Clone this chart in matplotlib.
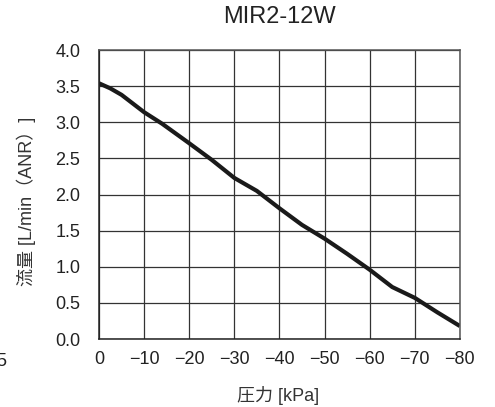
import matplotlib
matplotlib.use("Agg")
import matplotlib.pyplot as plt

# 圧力 [kPa] と 流量 [L/min(ANR)]
pressure = [0, -2.5, -5, -7.5, -10, -14, -20, -25, -30, -35, -40, -45, -50,
            -55, -60, -65, -70, -75, -80]
flow = [3.54, 3.47, 3.38, 3.26, 3.14, 2.98, 2.71, 2.48, 2.23, 2.05, 1.81,
        1.58, 1.39, 1.18, 0.96, 0.72, 0.57, 0.37, 0.18]

x_ticks = [0, -10, -20, -30, -40, -50, -60, -70, -80]
y_ticks = [0.0, 0.5, 1.0, 1.5, 2.0, 2.5, 3.0, 3.5, 4.0]

title = "MIR2-12W"
x_label = "圧力 [kPa]"
y_label = "流量 [L/min（ANR）]"

plt.rcParams["font.family"] = ["Liberation Sans", "Noto Sans CJK JP", "DejaVu Sans"]
plt.rcParams["axes.unicode_minus"] = True

fig = plt.figure(figsize=(4.95, 4.07), dpi=100)
ax = fig.add_axes([0.2, 0.167, 0.729, 0.71])

ax.plot(pressure, flow, color="#1a1a1a", lw=3.0, solid_capstyle="butt")

ax.set_xlim(0, -80)
ax.set_ylim(0, 4.0)
ax.set_xticks(x_ticks)
ax.set_xticklabels([str(v).replace("-", "\u2212") for v in x_ticks])
ax.set_yticks(y_ticks)
ax.set_yticklabels([f"{v:.1f}" for v in y_ticks])
ax.tick_params(axis="x", length=0, pad=8.5, labelsize=13, colors="#222")
ax.tick_params(axis="y", length=0, pad=13.5, labelsize=13, colors="#222")

ax.grid(True, color="#333333", lw=0.9)
ax.set_axisbelow(True)
for side in ["left", "bottom"]:
    ax.spines[side].set_color("#222222")
    ax.spines[side].set_linewidth(1.1)
for side in ["top", "right"]:
    ax.spines[side].set_color("#555555")
    ax.spines[side].set_linewidth(1.1)

fig.text(0.564, 0.959, title, ha="center", va="center", fontsize=17, color="#222")
fig.text(0.562, 0.029, x_label, ha="center", va="center", fontsize=13, color="#333")
fig.text(0.053, 0.504, y_label, ha="center", va="center", rotation=90,
         fontsize=13, color="#333")
# 左端で切れている隣の図の目盛り
fig.text(0.013, 1 - 362 / 407, "5", ha="right", va="center", fontsize=13, color="#222")

fig.savefig("out.png", dpi=100)
